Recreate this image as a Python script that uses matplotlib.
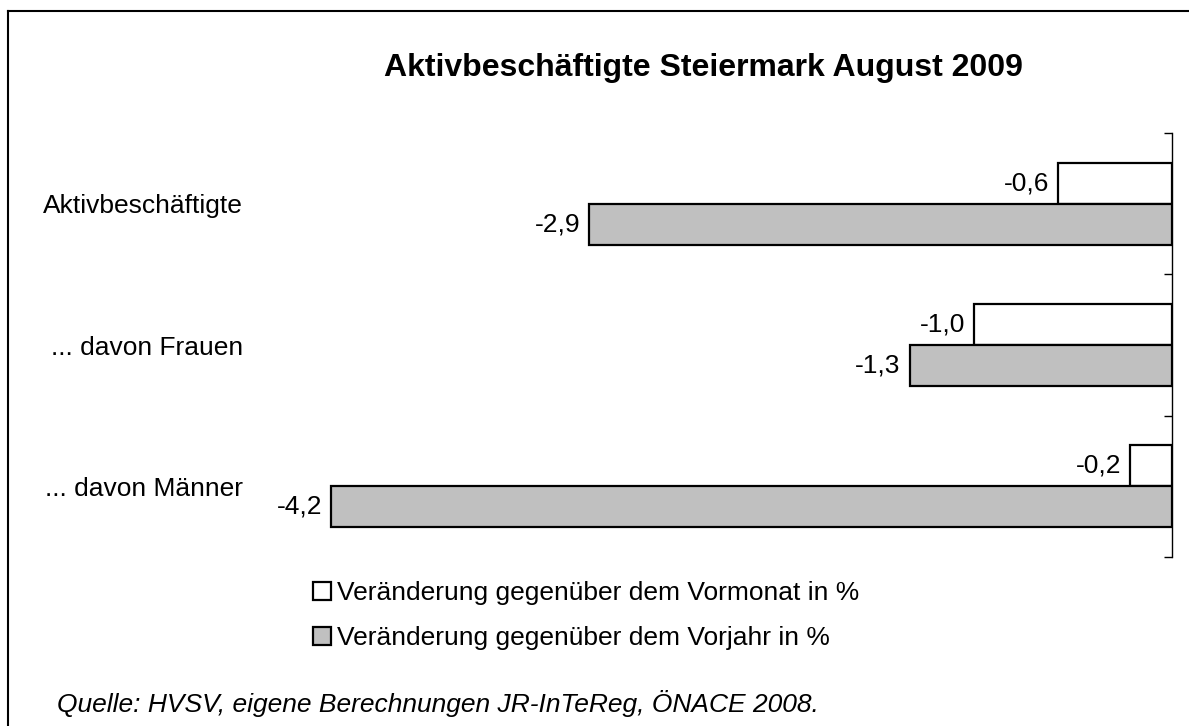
import matplotlib
matplotlib.use("Agg")
import matplotlib.pyplot as plt
from matplotlib.lines import Line2D
import numpy as np

plt.rcParams['font.family'] = ['Liberation Sans', 'DejaVu Sans']

categories = ['Aktivbeschäftigte', '... davon Frauen', '... davon Männer']
vormonat = [-0.57, -0.99, -0.21]
vorjahr = [-2.91, -1.31, -4.2]
series_labels = ['Veränderung gegenüber dem Vormonat in %',
                 'Veränderung gegenüber dem Vorjahr in %']
title = 'Aktivbeschäftigte Steiermark August 2009'
source = 'Quelle: HVSV, eigene Berechnungen JR-InTeReg, ÖNACE 2008.'

W, H = 1189, 726
fig = plt.figure(figsize=(W / 100, H / 100), dpi=100)
fig.patch.set_facecolor('white')

def fx(px):
    return px / W

def fy(py):
    return 1 - py / H

ax_left, ax_right, ax_top, ax_bottom = 271, 1172, 133, 557
ax = fig.add_axes([fx(ax_left), fy(ax_bottom), fx(ax_right - ax_left), (ax_bottom - ax_top) / H])

y = np.arange(len(categories))
bh = 0.29
b1 = ax.barh(y - bh / 2, vormonat, height=bh, color='white', edgecolor='black', linewidth=1.6)
b2 = ax.barh(y + bh / 2, vorjahr, height=bh, color='#C0C0C0', edgecolor='black', linewidth=1.6)

ax.set_xlim(-4.5, 0)
ax.set_ylim(len(categories) - 0.5, -0.5)

for bars, vals in ((b1, vormonat), (b2, vorjahr)):
    for rect, v in zip(bars, vals):
        ax.annotate(f'{v:.1f}'.replace('.', ','),
                    xy=(v, rect.get_y() + rect.get_height() / 2),
                    xytext=(-6.5, 0), textcoords='offset points',
                    ha='right', va='center', fontsize=19)

for s in ('left', 'top', 'bottom'):
    ax.spines[s].set_visible(False)
ax.spines['right'].set_linewidth(1.0)

ax.set_xticks([])
ax.set_yticks(y)
ax.set_yticklabels(categories, fontsize=19)
ax.set_yticks(np.arange(len(categories) + 1) - 0.5, minor=True)
ax.tick_params(axis='y', which='major', left=False, right=False, labelleft=True, pad=16.5)
ax.tick_params(axis='y', which='minor', left=False, right=True, direction='in', length=6, width=1.0)

fig.text(fx(703), fy(76), title, ha='center', va='baseline', fontsize=23, fontweight='bold')
fig.text(fx(57), fy(712), source, ha='left', va='baseline', fontsize=19, fontstyle='italic')

leg = fig.legend([b1, b2], series_labels, loc='upper left',
                 bbox_to_anchor=(fx(313), fy(581)), frameon=False, fontsize=19,
                 handlelength=0.7, handleheight=0.7, handletextpad=0.2,
                 labelspacing=0.8, borderpad=0, borderaxespad=0)

fig.add_artist(Line2D([fx(8), fx(8)], [fy(11), -0.1], color='black', linewidth=1.5))
fig.add_artist(Line2D([fx(8), 1.1], [fy(11), fy(11)], color='black', linewidth=1.5))

fig.savefig('out.png', dpi=100)
